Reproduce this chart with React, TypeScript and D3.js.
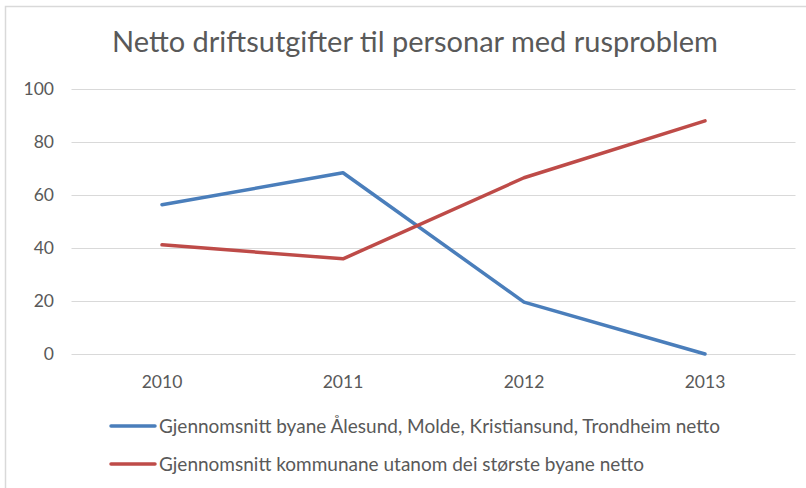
import React, { useEffect, useRef } from "react";
import * as d3 from "d3";

const categories = ["2010", "2011", "2012", "2013"];
const seriesNames = [
  "Gjennomsnitt byane Ålesund, Molde, Kristiansund, Trondheim netto",
  "Gjennomsnitt kommunane utanom dei største byane netto",
];
const blueValues = [56.3, 68.4, 19.6, 0];
const redValues = [41.2, 35.9, 66.5, 88.0];
const yTicks = [0, 20, 40, 60, 80, 100];
const colors = ["#4A7EBB", "#BE4B48"];
const title = "Netto driftsutgifter til personar med rusproblem";

export default function App() {
  const ref = useRef<SVGSVGElement>(null);
  useEffect(() => {
    const svg = d3.select(ref.current);
    svg.selectAll("*").remove();
    const W = 806, H = 488;
    const font = "Lato, 'Open Sans', sans-serif";
    svg.append("rect").attr("x", 0).attr("y", 0).attr("width", W).attr("height", H).attr("fill", "#fff");
    svg.append("rect").attr("x", 5.5).attr("y", 6.5).attr("width", 1000).attr("height", 1000)
      .attr("fill", "none").attr("stroke", "#D9D9D9").attr("stroke-width", 1.5);

    const x = d3.scaleBand().domain(categories).range([71.5, 795.5]);
    const y = d3.scaleLinear().domain([0, 100]).range([354, 89]);

    svg.append("text").attr("x", 415).attr("y", 52).attr("text-anchor", "middle")
      .attr("font-family", font).attr("font-size", 29).attr("fill", "#595959").text(title);

    const g = svg.append("g");
    g.selectAll("line.grid").data(yTicks).join("line")
      .attr("x1", 71.5).attr("x2", 795.5)
      .attr("y1", d => Math.round(y(d)) + 0.5).attr("y2", d => Math.round(y(d)) + 0.5)
      .attr("stroke", "#D9D9D9").attr("stroke-width", 1);

    g.selectAll("text.ytick").data(yTicks).join("text")
      .attr("x", 54).attr("y", d => y(d)).attr("dy", "0.35em").attr("text-anchor", "end")
      .attr("font-family", font).attr("font-size", 17.5).attr("fill", "#595959").text(d => String(d));

    g.selectAll("text.xtick").data(categories).join("text")
      .attr("x", d => (x(d) as number) + x.bandwidth() / 2).attr("y", 382).attr("dy", "0.35em")
      .attr("text-anchor", "middle").attr("font-family", font).attr("font-size", 17.5)
      .attr("fill", "#595959").text(d => d);

    const line = d3.line<number>()
      .x((_, i) => (x(categories[i]) as number) + x.bandwidth() / 2)
      .y(d => y(d));

    [blueValues, redValues].forEach((vals, i) => {
      g.append("path").attr("d", line(vals) as string).attr("fill", "none")
        .attr("stroke", colors[i]).attr("stroke-width", 3.5).attr("stroke-linecap", "round")
        .attr("stroke-linejoin", "round");
    });

    const legY = [426, 464];
    seriesNames.forEach((name, i) => {
      svg.append("line").attr("x1", 111).attr("x2", 155).attr("y1", legY[i]).attr("y2", legY[i])
        .attr("stroke", colors[i]).attr("stroke-width", 3.5).attr("stroke-linecap", "round");
      svg.append("text").attr("x", 159).attr("y", legY[i]).attr("dy", "0.35em")
        .attr("font-family", font).attr("font-size", 19).attr("fill", "#595959").text(name);
    });
  }, []);
  return (
    <svg ref={ref} width={806} height={488}
      style={{ position: "absolute", left: 0, top: 0, display: "block" }} />
  );
}
